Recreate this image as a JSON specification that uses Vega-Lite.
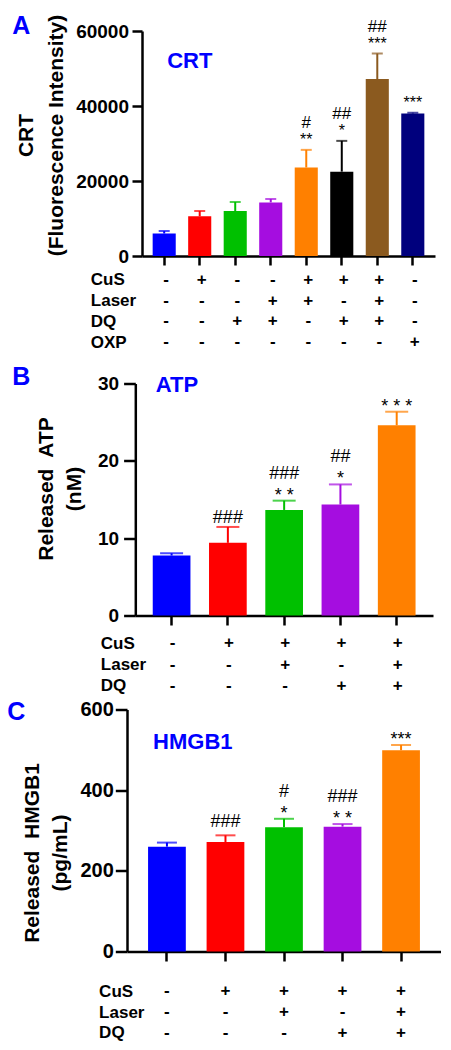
{
  "$schema": "https://vega.github.io/schema/vega-lite/v6.json",
  "background": "white",
  "padding": {"left": 7, "top": 14, "right": 0, "bottom": 0},
  "datasets": {
    "A": [
      {"g": "1", "v": 6000, "e": 6650, "st": "", "hs": ""},
      {"g": "2", "v": 10600, "e": 12000, "st": "", "hs": ""},
      {"g": "3", "v": 12000, "e": 14400, "st": "", "hs": ""},
      {"g": "4", "v": 14300, "e": 15200, "st": "", "hs": ""},
      {"g": "5", "v": 23600, "e": 28300, "st": "**", "hs": "#"},
      {"g": "6", "v": 22500, "e": 30700, "st": "*", "hs": "##"},
      {"g": "7", "v": 47200, "e": 54000, "st": "***", "hs": "##"},
      {"g": "8", "v": 38000, "e": 38200, "st": "***", "hs": ""}
    ],
    "B": [
      {"g": "1", "v": 7.75, "e": 8.05, "st": "", "hs": ""},
      {"g": "2", "v": 9.4, "e": 11.45, "st": "", "hs": "###"},
      {"g": "3", "v": 13.65, "e": 14.85, "st": "* *", "hs": "###"},
      {"g": "4", "v": 14.35, "e": 16.95, "st": "*", "hs": "##"},
      {"g": "5", "v": 24.6, "e": 26.35, "st": "* * *", "hs": ""}
    ],
    "C": [
      {"g": "1", "v": 260, "e": 270, "st": "", "hs": ""},
      {"g": "2", "v": 271.5, "e": 288, "st": "", "hs": "###"},
      {"g": "3", "v": 308, "e": 329, "st": "*", "hs": "#"},
      {"g": "4", "v": 309.5, "e": 316, "st": "* *", "hs": "###"},
      {"g": "5", "v": 499, "e": 512, "st": "***", "hs": ""}
    ],
    "tA": [
      {"g": "1", "f": "CuS", "s": "-"}, {"g": "2", "f": "CuS", "s": "+"}, {"g": "3", "f": "CuS", "s": "-"}, {"g": "4", "f": "CuS", "s": "-"},
      {"g": "5", "f": "CuS", "s": "+"}, {"g": "6", "f": "CuS", "s": "+"}, {"g": "7", "f": "CuS", "s": "+"}, {"g": "8", "f": "CuS", "s": "-"},
      {"g": "1", "f": "Laser", "s": "-"}, {"g": "2", "f": "Laser", "s": "-"}, {"g": "3", "f": "Laser", "s": "-"}, {"g": "4", "f": "Laser", "s": "+"},
      {"g": "5", "f": "Laser", "s": "+"}, {"g": "6", "f": "Laser", "s": "-"}, {"g": "7", "f": "Laser", "s": "+"}, {"g": "8", "f": "Laser", "s": "-"},
      {"g": "1", "f": "DQ", "s": "-"}, {"g": "2", "f": "DQ", "s": "-"}, {"g": "3", "f": "DQ", "s": "+"}, {"g": "4", "f": "DQ", "s": "+"},
      {"g": "5", "f": "DQ", "s": "-"}, {"g": "6", "f": "DQ", "s": "+"}, {"g": "7", "f": "DQ", "s": "+"}, {"g": "8", "f": "DQ", "s": "-"},
      {"g": "1", "f": "OXP", "s": "-"}, {"g": "2", "f": "OXP", "s": "-"}, {"g": "3", "f": "OXP", "s": "-"}, {"g": "4", "f": "OXP", "s": "-"},
      {"g": "5", "f": "OXP", "s": "-"}, {"g": "6", "f": "OXP", "s": "-"}, {"g": "7", "f": "OXP", "s": "-"}, {"g": "8", "f": "OXP", "s": "+"}
    ],
    "tBC": [
      {"g": "1", "f": "CuS", "s": "-"}, {"g": "2", "f": "CuS", "s": "+"}, {"g": "3", "f": "CuS", "s": "+"}, {"g": "4", "f": "CuS", "s": "+"}, {"g": "5", "f": "CuS", "s": "+"},
      {"g": "1", "f": "Laser", "s": "-"}, {"g": "2", "f": "Laser", "s": "-"}, {"g": "3", "f": "Laser", "s": "+"}, {"g": "4", "f": "Laser", "s": "-"}, {"g": "5", "f": "Laser", "s": "+"},
      {"g": "1", "f": "DQ", "s": "-"}, {"g": "2", "f": "DQ", "s": "-"}, {"g": "3", "f": "DQ", "s": "-"}, {"g": "4", "f": "DQ", "s": "+"}, {"g": "5", "f": "DQ", "s": "+"}
    ]
  },
  "vconcat": [
    {
      "spacing": 2.5,
      "vconcat": [
        {
          "width": 308, "height": 225,
          "data": {"name": "A"},
          "title": {"text": "A", "anchor": "start", "frame": "group", "dx": -114.7, "fontSize": 25, "fontWeight": "bold", "color": "#0000FF", "offset": -25},
          "encoding": {
            "x": {"field": "g", "type": "ordinal", "scale": {"type": "band", "range": [15, 308], "paddingInner": 0.35, "paddingOuter": 0.3},
                  "axis": {"labels": false, "title": null, "tickSize": 9}},
            "color": {"field": "g", "type": "ordinal", "legend": null,
                      "scale": {"domain": ["1","2","3","4","5","6","7","8"], "range": ["#0000FF","#FF0000","#00C000","#A50DE0","#FF8000","#000000","#8B5A1F","#00007D"]}}
          },
          "layer": [
            {"mark": {"type": "bar"},
             "encoding": {"y": {"field": "v", "type": "quantitative", "scale": {"domain": [0, 60000]},
               "axis": {"values": [0, 20000, 40000, 60000], "format": "d", "offset": -15, "title": ["CRT", "(Fluorescence Intensity)"], "titleFontSize": 21, "titleLineHeight": 30, "titleY": 104, "titlePadding": 9, "labelFontSize": 19, "tickSize": 10, "labelPadding": 3.5}}}},
            {"mark": {"type": "rule", "strokeWidth": 2}, "encoding": {"y": {"field": "v", "type": "quantitative"}, "y2": {"field": "e"}}},
            {"mark": {"type": "tick", "thickness": 2, "size": 11}, "encoding": {"y": {"field": "e", "type": "quantitative"}}},
            {"mark": {"type": "text", "fontSize": 16, "baseline": "alphabetic", "dy": -5},
             "encoding": {"y": {"field": "e", "type": "quantitative"}, "text": {"field": "st"}, "color": {"value": "black"}}},
            {"transform": [{"filter": "datum.hs != '' && datum.st != ''"}],
             "mark": {"type": "text", "fontSize": 17, "baseline": "alphabetic", "dy": -22},
             "encoding": {"y": {"field": "e", "type": "quantitative"}, "text": {"field": "hs"}, "color": {"value": "black"}}},
            {"data": {"values": [{"t": "CRT"}]},
             "mark": {"type": "text", "fontSize": 22, "fontWeight": "bold", "align": "left", "baseline": "middle", "dx": 3},
             "encoding": {"x": {"datum": "1", "type": "ordinal"}, "y": {"datum": 52000, "type": "quantitative"}, "text": {"field": "t"}, "color": {"value": "#0000FF"}}}
          ]
        },
        {
          "width": 308, "height": 83,
          "data": {"name": "tA"},
          "mark": {"type": "text", "fontSize": 17, "fontWeight": "bold", "dx": 2, "color": "black"},
          "encoding": {
            "x": {"field": "g", "type": "ordinal", "scale": {"type": "band", "range": [15, 308], "paddingInner": 0.35, "paddingOuter": 0.3}, "axis": null},
            "y": {"field": "f", "type": "nominal", "sort": ["CuS", "Laser", "DQ", "OXP"],
                  "axis": {"title": null, "domain": false, "ticks": false, "labelAlign": "left", "labelPadding": 36.7, "labelFontSize": 17}},
            "text": {"field": "s"}
          }
        }
      ]
    },
    {
      "spacing": 3,
      "vconcat": [
        {
          "spacing": 6,
          "vconcat": [
            {
              "width": 306, "height": 232,
              "data": {"name": "B"},
              "title": {"text": "B", "anchor": "start", "frame": "group", "dx": -114.7, "fontSize": 25, "fontWeight": "bold", "color": "#0000FF", "offset": -16},
              "encoding": {
                "x": {"field": "g", "type": "ordinal", "scale": {"type": "band", "range": [8.3, 306], "paddingInner": 0.33, "paddingOuter": 0.31},
                      "axis": {"labels": false, "title": null, "tickSize": 9.5}},
                "color": {"field": "g", "type": "ordinal", "legend": null,
                          "scale": {"domain": ["1","2","3","4","5"], "range": ["#0000FF","#FF0000","#00C000","#A70BDF","#FF8000"]}}
              },
              "layer": [
                {"mark": {"type": "bar"},
                 "encoding": {"y": {"field": "v", "type": "quantitative", "scale": {"domain": [0, 30]},
                   "axis": {"values": [0, 10, 20, 30], "offset": -8.3, "title": ["Released\u00a0 ATP", "(nM)"], "titleFontSize": 21, "titleLineHeight": 28, "titleY": 105, "titlePadding": 13, "labelFontSize": 19, "tickSize": 11.7, "labelPadding": 5}}}},
                {"mark": {"type": "rule", "strokeWidth": 2}, "encoding": {"y": {"field": "v", "type": "quantitative"}, "y2": {"field": "e"}}},
                {"mark": {"type": "tick", "thickness": 2, "size": 23}, "encoding": {"y": {"field": "e", "type": "quantitative"}}},
                {"mark": {"type": "text", "fontSize": 18, "baseline": "alphabetic", "dy": 0},
                 "encoding": {"y": {"field": "e", "type": "quantitative"}, "text": {"field": "st"}, "color": {"value": "black"}}},
                {"transform": [{"filter": "datum.hs != '' && datum.st != ''"}],
                 "mark": {"type": "text", "fontSize": 18, "baseline": "alphabetic", "dy": -22},
                 "encoding": {"y": {"field": "e", "type": "quantitative"}, "text": {"field": "hs"}, "color": {"value": "black"}}},
                {"transform": [{"filter": "datum.hs != '' && datum.st == ''"}],
                 "mark": {"type": "text", "fontSize": 18, "baseline": "alphabetic", "dy": -4},
                 "encoding": {"y": {"field": "e", "type": "quantitative"}, "text": {"field": "hs"}, "color": {"value": "black"}}},
                {"data": {"values": [{"t": "ATP"}]},
                 "mark": {"type": "text", "fontSize": 22, "fontWeight": "bold", "align": "left", "baseline": "middle", "dx": 3},
                 "encoding": {"x": {"datum": "1", "type": "ordinal", "bandPosition": 0}, "y": {"datum": 29.8, "type": "quantitative"}, "text": {"field": "t"}, "color": {"value": "#0000FF"}}}
              ]
            },
            {
              "width": 306, "height": 64,
              "data": {"name": "tBC"},
              "mark": {"type": "text", "fontSize": 17, "fontWeight": "bold", "dx": 1, "color": "black"},
              "encoding": {
                "x": {"field": "g", "type": "ordinal", "scale": {"type": "band", "range": [8.3, 306], "paddingInner": 0.33, "paddingOuter": 0.31}, "axis": null},
                "y": {"field": "f", "type": "nominal", "sort": ["CuS", "Laser", "DQ"],
                      "axis": {"title": null, "domain": false, "ticks": false, "labelAlign": "left", "labelPadding": 26.7, "labelFontSize": 17}},
                "text": {"field": "s"}
              }
            }
          ]
        },
        {
          "spacing": 18.5,
          "vconcat": [
            {
              "width": 314, "height": 242,
              "data": {"name": "C"},
              "title": {"text": "C", "anchor": "start", "frame": "group", "dx": -119.7, "fontSize": 25, "fontWeight": "bold", "color": "#0000FF", "offset": -25},
              "encoding": {
                "x": {"field": "g", "type": "ordinal", "scale": {"type": "band", "range": [0, 314], "paddingInner": 0.355, "paddingOuter": 0.36},
                      "axis": {"labels": false, "title": null, "tickSize": 9.5}},
                "color": {"field": "g", "type": "ordinal", "legend": null,
                          "scale": {"domain": ["1","2","3","4","5"], "range": ["#0000FF","#FF0000","#00C000","#A70BDF","#FF8000"]}}
              },
              "layer": [
                {"mark": {"type": "bar"},
                 "encoding": {"y": {"field": "v", "type": "quantitative", "scale": {"domain": [0, 600]},
                   "axis": {"values": [0, 200, 400, 600], "title": ["Released\u00a0 HMGB1", "(pg/mL)"], "titleFontSize": 21, "titleLineHeight": 28, "titleY": 143, "titlePadding": 9, "labelFontSize": 20, "tickSize": 11.7, "labelPadding": 2}}}},
                {"mark": {"type": "rule", "strokeWidth": 2}, "encoding": {"y": {"field": "v", "type": "quantitative"}, "y2": {"field": "e"}}},
                {"mark": {"type": "tick", "thickness": 2, "size": 20}, "encoding": {"y": {"field": "e", "type": "quantitative"}}},
                {"mark": {"type": "text", "fontSize": 18, "baseline": "alphabetic", "dy": 0},
                 "encoding": {"y": {"field": "e", "type": "quantitative"}, "text": {"field": "st"}, "color": {"value": "black"}}},
                {"transform": [{"filter": "datum.hs != '' && datum.st != ''"}],
                 "mark": {"type": "text", "fontSize": 18, "baseline": "alphabetic", "dy": -22},
                 "encoding": {"y": {"field": "e", "type": "quantitative"}, "text": {"field": "hs"}, "color": {"value": "black"}}},
                {"transform": [{"filter": "datum.hs != '' && datum.st == ''"}],
                 "mark": {"type": "text", "fontSize": 18, "baseline": "alphabetic", "dy": -8},
                 "encoding": {"y": {"field": "e", "type": "quantitative"}, "text": {"field": "hs"}, "color": {"value": "black"}}},
                {"data": {"values": [{"t": "HMGB1"}]},
                 "mark": {"type": "text", "fontSize": 22, "fontWeight": "bold", "align": "left", "baseline": "middle", "dx": 5},
                 "encoding": {"x": {"datum": "1", "type": "ordinal", "bandPosition": 0}, "y": {"datum": 520, "type": "quantitative"}, "text": {"field": "t"}, "color": {"value": "#0000FF"}}}
              ]
            },
            {
              "width": 314, "height": 62,
              "data": {"name": "tBC"},
              "mark": {"type": "text", "fontSize": 17, "fontWeight": "bold", "dx": 0, "color": "black"},
              "encoding": {
                "x": {"field": "g", "type": "ordinal", "scale": {"type": "band", "range": [0, 314], "paddingInner": 0.355, "paddingOuter": 0.36}, "axis": null},
                "y": {"field": "f", "type": "nominal", "sort": ["CuS", "Laser", "DQ"],
                      "axis": {"title": null, "domain": false, "ticks": false, "labelAlign": "left", "labelPadding": 28.4, "labelFontSize": 17}},
                "text": {"field": "s"}
              }
            }
          ]
        }
      ]
    }
  ],
  "spacing": 11.5,
  "config": {
    "font": "Liberation Sans",
    "view": {"stroke": null},
    "axis": {"domainColor": "black", "tickColor": "black", "domainWidth": 2.5, "tickWidth": 2.5, "labelColor": "black", "titleColor": "black",
             "labelFontWeight": "bold", "titleFontWeight": "bold", "grid": false, "labelFont": "Liberation Sans", "titleFont": "Liberation Sans"},
    "text": {"font": "Liberation Sans"},
    "title": {"font": "Liberation Sans"}
  }
}
